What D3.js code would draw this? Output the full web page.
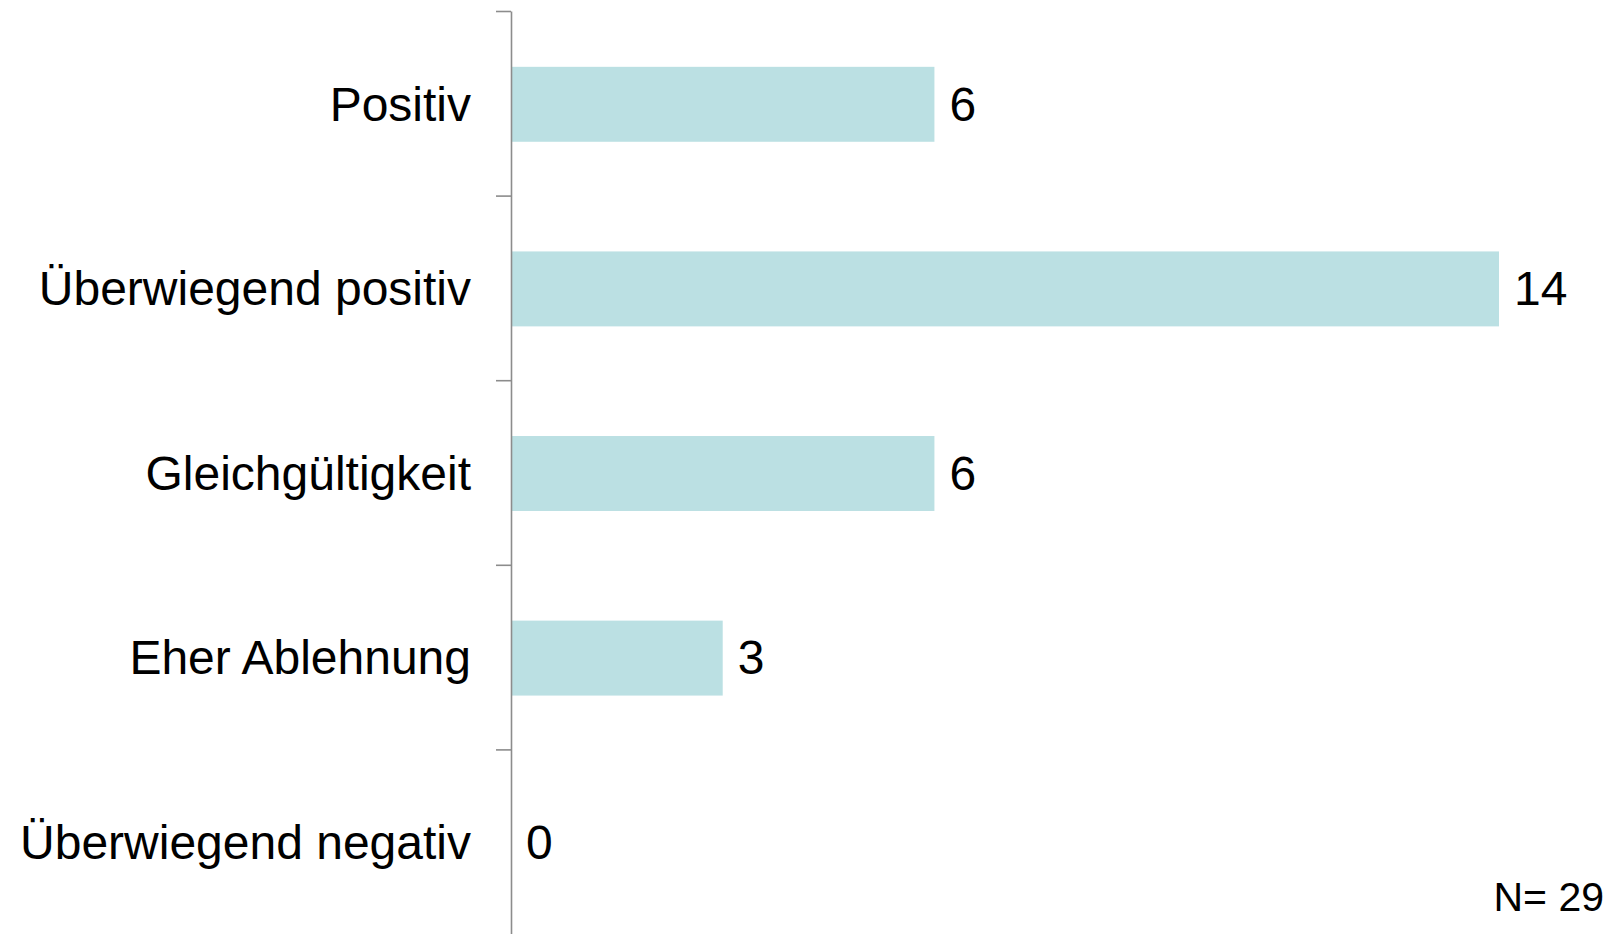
<!DOCTYPE html>
<html>
<head>
<meta charset="utf-8">
<script src="https://cdn.jsdelivr.net/npm/d3@7"></script>
<style>
html,body{margin:0;padding:0;background:#fff;}
svg{display:block;}
text{font-family:"Liberation Sans",Arial,sans-serif;fill:#000;}
</style>
</head>
<body>
<svg id="chart" width="1612" height="934"></svg>
<script>
const categories = ["Positiv", "Überwiegend positiv", "Gleichgültigkeit", "Eher Ablehnung", "Überwiegend negativ"];
const values = [6, 14, 6, 3, 0];
const note = "N= 29";

(function () {
const svg = d3.select("#chart");
const axisX = 511, yTop = 11, yBottom = 934;

const x = d3.scaleLinear().domain([0, 14]).range([axisX, 1499]);
const y = d3.scaleBand().domain(categories).range([yTop, yBottom]).padding(0);
const barFrac = 0.406;
const barH = y.bandwidth() * barFrac;

// bars
svg.append("g").selectAll("rect").data(categories).join("rect")
  .attr("x", x(0))
  .attr("y", d => y(d) + (y.bandwidth() - barH) / 2 + 1)
  .attr("width", (d, i) => x(values[i]) - x(0))
  .attr("height", barH)
  .attr("fill", "#bbe0e3");

// axis with ticks at category boundaries
const yIdx = d3.scaleLinear().domain([0, categories.length]).range([yTop, yBottom]);
const axisG = svg.append("g").attr("transform", `translate(${axisX},0)`)
  .call(d3.axisLeft(yIdx).tickValues(d3.range(categories.length)).tickFormat("").tickSize(15).tickSizeOuter(0));
axisG.select(".domain").attr("stroke", "#8c8c8c").attr("stroke-width", 1.6);
axisG.selectAll(".tick line").attr("stroke", "#8c8c8c").attr("stroke-width", 1.6);

// category labels
svg.append("g").selectAll("text").data(categories).join("text")
  .attr("x", axisX - 40)
  .attr("y", d => y(d) + y.bandwidth() / 2)
  .attr("dy", "0.36em")
  .attr("text-anchor", "end")
  .style("font-size", "48px")
  .text(d => d);

// value labels
svg.append("g").selectAll("text").data(categories).join("text")
  .attr("x", (d, i) => x(values[i]) + 15)
  .attr("y", d => y(d) + y.bandwidth() / 2)
  .attr("dy", "0.36em")
  .style("font-size", "48px")
  .text((d, i) => values[i]);

// note
svg.append("text")
  .attr("x", 1604)
  .attr("y", 911)
  .attr("text-anchor", "end")
  .style("font-size", "41px")
  .text(note);
})();
</script>
</body>
</html>
